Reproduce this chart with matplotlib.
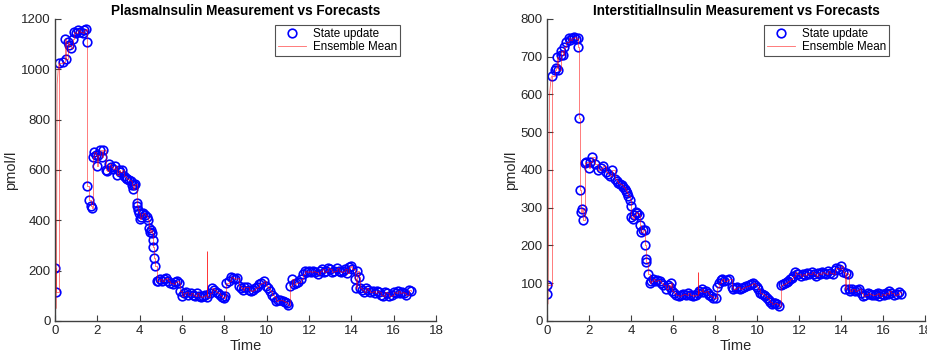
import matplotlib
matplotlib.use("Agg")
import matplotlib.pyplot as plt
import numpy as np

# PlasmaInsulin: state update points (time [h], pmol/l)
plasma_t = [0.02, 0.04, 0.2, 0.36, 0.47, 0.5, 0.6, 0.68, 0.76, 0.83, 0.9, 1.0, 1.1, 1.2, 1.3, 1.38,
            1.46, 1.51, 1.53, 1.59, 1.72, 1.76, 1.81, 1.86, 1.92, 2.0, 2.05, 2.14, 2.22, 2.28, 2.4, 2.47,
            2.56, 2.65, 2.75, 2.85, 2.93, 3.0, 3.08, 3.15, 3.26, 3.33, 3.39, 3.5, 3.58, 3.62, 3.68, 3.73,
            3.8, 3.86, 3.89, 3.92, 3.95, 4.0, 4.05, 4.1, 4.17, 4.25, 4.33, 4.41, 4.45, 4.49, 4.53, 4.57,
            4.61, 4.65, 4.68, 4.72, 4.8, 4.88, 4.96, 5.05, 5.15, 5.25, 5.35, 5.45, 5.55, 5.65, 5.75, 5.85,
            5.92, 5.98, 6.1, 6.2, 6.3, 6.4, 6.5, 6.6, 6.7, 6.8, 6.9, 7.0, 7.1, 7.2, 7.3, 7.4,
            7.5, 7.6, 7.7, 7.8, 7.9, 8.0, 8.05, 8.1, 8.2, 8.3, 8.4, 8.5, 8.6, 8.7, 8.78, 8.86,
            8.95, 9.05, 9.15, 9.25, 9.35, 9.45, 9.55, 9.65, 9.75, 9.85, 9.95, 10.05, 10.15, 10.25, 10.35, 10.45,
            10.55, 10.65, 10.75, 10.85, 10.95, 11.02, 11.1, 11.2, 11.3, 11.4, 11.5, 11.6, 11.7, 11.8, 11.9, 12.0,
            12.1, 12.2, 12.3, 12.4, 12.5, 12.6, 12.7, 12.8, 12.9, 13.0, 13.1, 13.2, 13.3, 13.4, 13.5, 13.6,
            13.7, 13.8, 13.9, 13.97, 14.05, 14.15, 14.2, 14.25, 14.35, 14.4, 14.5, 14.6, 14.7, 14.8, 14.9, 15.0,
            15.1, 15.2, 15.3, 15.4, 15.5, 15.6, 15.7, 15.8, 15.9, 16.0, 16.1, 16.2, 16.3, 16.4, 16.5, 16.6,
            16.7, 16.8]
plasma_v = [210, 115, 1025, 1030, 1120, 1040, 1110, 1095, 1085, 1120, 1150, 1145, 1155, 1150, 1145, 1155,
            1160, 1110, 535, 480, 455, 450, 650, 670, 660, 615, 660, 680, 650, 680, 600, 595,
            625, 610, 605, 615, 580, 600, 590, 600, 575, 570, 565, 560, 555, 540, 525, 540,
            545, 470, 455, 440, 430, 405, 415, 425, 430, 420, 415, 400, 370, 355, 360, 350,
            320, 295, 250, 220, 160, 160, 165, 160, 165, 170, 160, 150, 145, 155, 160, 150,
            120, 100, 110, 115, 105, 110, 105, 100, 110, 100, 95, 100, 105, 95, 110, 130,
            125, 115, 110, 105, 95, 90, 100, 150, 160, 175, 170, 165, 170, 140, 130, 125,
            135, 135, 125, 120, 125, 130, 135, 145, 150, 160, 140, 130, 120, 105, 95, 80,
            85, 85, 80, 75, 70, 65, 140, 165, 145, 150, 155, 165, 185, 200, 195, 200,
            195, 200, 195, 185, 200, 205, 195, 200, 210, 205, 195, 200, 210, 200, 195, 200,
            205, 190, 215, 220, 205, 165, 130, 200, 175, 130, 125, 115, 130, 125, 115, 120,
            110, 120, 115, 105, 100, 115, 110, 100, 105, 115, 110, 120, 110, 115, 110, 105,
            125, 120]
# ensemble mean excursions that leave the point cloud
plasma_mean_t = [0.0, 0.06, 0.1, 0.15, 0.2]
plasma_mean_v = [295, 50, 940, 1000, 1025]
plasma_spike_t = [7.2]
plasma_spike_lo = [100]
plasma_spike_hi = [280]

# InterstitialInsulin: state update points
inter_t = [0.0, 0.02, 0.25, 0.36, 0.41, 0.49, 0.52, 0.65, 0.69, 0.77, 0.8, 0.91, 1.04, 1.12, 1.2, 1.31,
           1.4, 1.46, 1.49, 1.51, 1.56, 1.62, 1.68, 1.71, 1.79, 1.86, 1.98, 2.06, 2.16, 2.3, 2.45, 2.55,
           2.66, 2.82, 2.92, 3.0, 3.12, 3.24, 3.32, 3.4, 3.48, 3.56, 3.64, 3.71, 3.78, 3.82, 3.88, 3.95,
           3.98, 4.02, 4.1, 4.16, 4.22, 4.3, 4.37, 4.42, 4.5, 4.58, 4.66, 4.68, 4.71, 4.74, 4.81, 4.89,
           4.97, 5.05, 5.15, 5.25, 5.37, 5.45, 5.52, 5.65, 5.75, 5.85, 5.92, 5.96, 6.05, 6.15, 6.3, 6.4,
           6.5, 6.6, 6.7, 6.8, 6.94, 7.0, 7.1, 7.17, 7.25, 7.38, 7.45, 7.55, 7.65, 7.72, 7.8, 7.92,
           8.04, 8.12, 8.2, 8.28, 8.35, 8.45, 8.55, 8.67, 8.79, 8.88, 8.98, 9.06, 9.18, 9.3, 9.4, 9.5,
           9.6, 9.7, 9.8, 9.9, 9.98, 10.05, 10.16, 10.25, 10.32, 10.4, 10.48, 10.56, 10.64, 10.71, 10.8, 10.87,
           10.95, 11.03, 11.15, 11.25, 11.34, 11.42, 11.5, 11.58, 11.66, 11.74, 11.82, 11.9, 11.97, 12.1, 12.2, 12.3,
           12.4, 12.5, 12.6, 12.7, 12.8, 12.9, 13.0, 13.1, 13.2, 13.3, 13.4, 13.5, 13.6, 13.7, 13.78, 13.9,
           14.02, 14.1, 14.18, 14.25, 14.33, 14.36, 14.45, 14.55, 14.65, 14.75, 14.88, 14.95, 15.04, 15.15, 15.28, 15.4,
           15.5, 15.6, 15.68, 15.75, 15.83, 15.95, 16.05, 16.14, 16.22, 16.3, 16.4, 16.54, 16.65, 16.77, 16.85]
inter_v = [72, 95, 650, 665, 670, 700, 665, 705, 715, 705, 725, 740, 750, 745, 750, 752,
           748, 750, 725, 537, 348, 290, 297, 268, 418, 420, 405, 420, 435, 415, 400, 405,
           410, 395, 390, 385, 400, 375, 370, 365, 362, 360, 355, 350, 345, 340, 330, 320,
           305, 275, 270, 280, 290, 285, 280, 255, 235, 240, 240, 200, 165, 155, 125, 100,
           105, 110, 105, 108, 105, 100, 95, 85, 95, 90, 100, 80, 75, 70, 65, 70,
           72, 68, 75, 70, 65, 70, 68, 75, 80, 85, 78, 80, 75, 70, 65, 62,
           60, 90, 100, 108, 110, 105, 108, 110, 90, 85, 88, 90, 85, 88, 90, 92,
           95, 98, 100, 95, 90, 85, 75, 72, 70, 65, 60, 55, 50, 45, 48, 48,
           45, 40, 95, 98, 100, 103, 105, 110, 115, 120, 130, 125, 125, 120, 125, 122,
           128, 125, 130, 125, 120, 128, 125, 130, 128, 125, 132, 128, 125, 135, 140, 138,
           145, 130, 85, 128, 125, 85, 80, 85, 80, 82, 85, 75, 65, 70, 75, 72,
           70, 70, 72, 75, 65, 72, 70, 75, 72, 80, 75, 70, 72, 78, 72]
inter_mean_t = [0.0, 0.05, 0.12, 0.2, 0.25]
inter_mean_v = [130, 45, 600, 645, 650]
inter_spike_t = [7.2]
inter_spike_lo = [72]
inter_spike_hi = [130]

AX_COLOR = "#404040"
plt.rcParams["font.family"] = ["Liberation Sans", "DejaVu Sans"]


def draw_panel(ax, t, v, mean_t, mean_v, spike_t, spike_lo, spike_hi, title, ymax, ystep):
    ax.plot(t, v, linestyle="none", marker="o", markersize=6.2, markerfacecolor="none",
            markeredgecolor="blue", markeredgewidth=1.2, label="State update")
    ax.plot(t, v, color="red", linewidth=0.6, alpha=0.6, drawstyle="steps-post",
            label="Ensemble Mean")
    ax.plot(mean_t, mean_v, color="red", linewidth=0.6, alpha=0.6)
    ax.vlines(spike_t, spike_lo, spike_hi, color="red", linewidth=0.7, alpha=0.8)

    ax.set_xlim(0, 18)
    ax.set_ylim(0, ymax)
    ax.set_xticks(np.arange(0, 19, 2))
    ax.set_yticks(np.arange(0, ymax + 1, ystep))
    for s in ("top", "right"):
        ax.spines[s].set_visible(False)
    for s in ("left", "bottom"):
        ax.spines[s].set_color(AX_COLOR)
        ax.spines[s].set_linewidth(1.0)
    ax.tick_params(direction="in", length=4, width=0.8, color=AX_COLOR,
                   labelsize=9.5, labelcolor="#262626", pad=3)
    ax.set_xlabel("Time", fontsize=10.5, color="#262626", labelpad=1)
    ax.set_ylabel("pmol/l", fontsize=10.5, color="#262626", labelpad=2)
    ax.set_title(title, fontsize=9.8, fontweight="bold", pad=3)
    leg = ax.legend(loc="upper right", bbox_to_anchor=(0.905, 0.98), fontsize=8.4,
                    frameon=True, fancybox=False, borderpad=0.25, labelspacing=0.1,
                    handlelength=2.4, handletextpad=0.6, borderaxespad=0)
    leg.get_frame().set_edgecolor("#262626")
    leg.get_frame().set_linewidth(0.8)


fig = plt.figure(figsize=(9.28, 3.58), dpi=100)
ax1 = fig.add_axes([0.0593, 0.1034, 0.4106, 0.8436])
ax2 = fig.add_axes([0.5894, 0.1034, 0.4073, 0.8436])

draw_panel(ax1, plasma_t, plasma_v, plasma_mean_t, plasma_mean_v, plasma_spike_t,
           plasma_spike_lo, plasma_spike_hi, "PlasmaInsulin Measurement vs Forecasts", 1200, 200)
draw_panel(ax2, inter_t, inter_v, inter_mean_t, inter_mean_v, inter_spike_t,
           inter_spike_lo, inter_spike_hi, "InterstitialInsulin Measurement vs Forecasts", 800, 100)

fig.savefig("out.png", dpi=100)
